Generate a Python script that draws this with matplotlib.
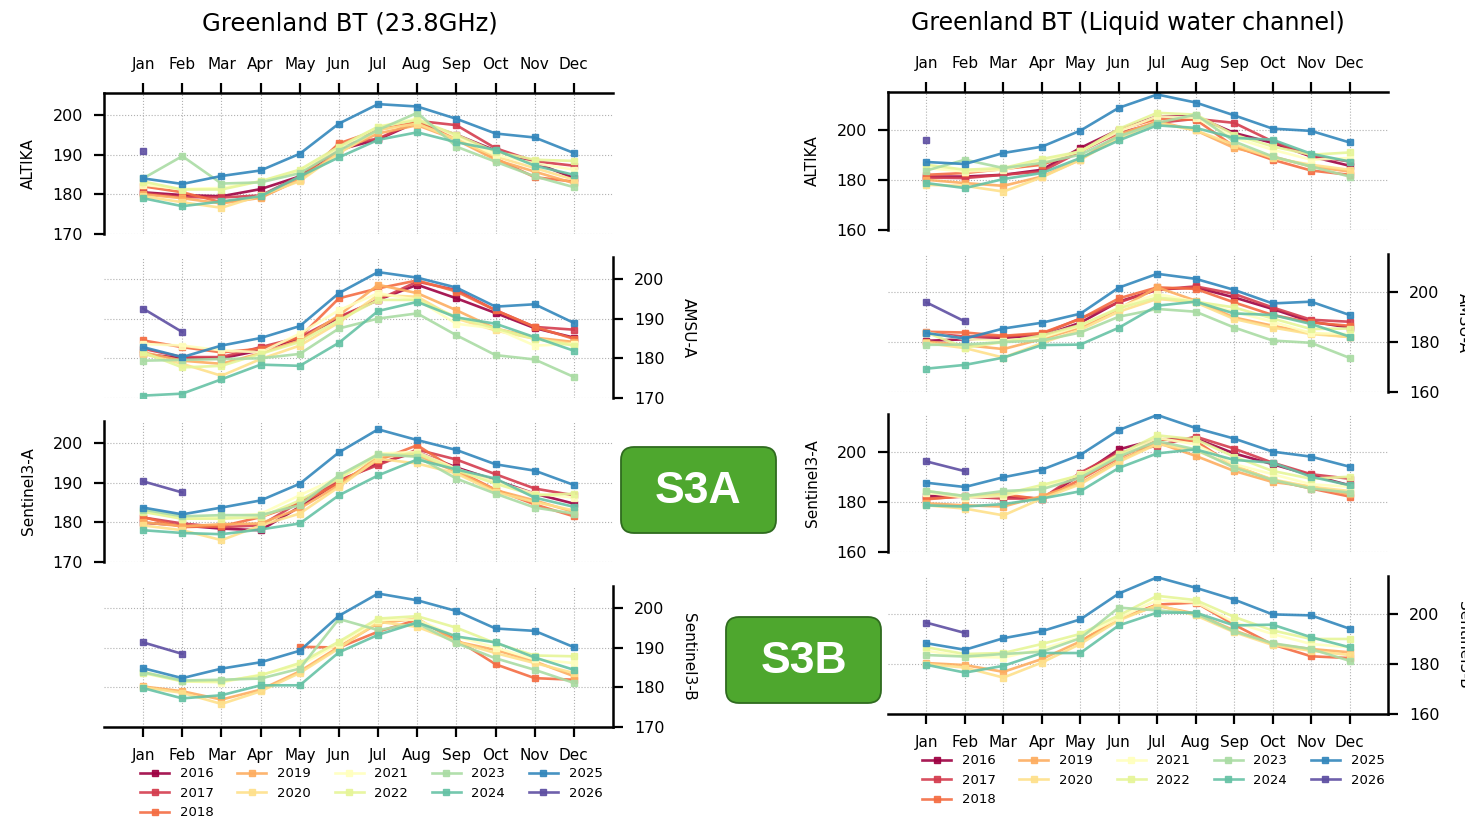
import numpy as np
import matplotlib
matplotlib.use("Agg")
import matplotlib.pyplot as plt
from matplotlib.lines import Line2D
from matplotlib.patches import FancyBboxPatch

months = ["Jan", "Feb", "Mar", "Apr", "May", "Jun", "Jul", "Aug", "Sep", "Oct", "Nov", "Dec"]
years = list(range(2016, 2027))

# ---- 23.8 GHz ----
l_altika = {
    2016: [180.5, 179.8, 179.5, 181.3, 184.5, 191.2, 193.8, 198.2, 195.0, 191.0, 188.0, 184.1],
    2017: [180.3, 179.3, 179.2, 179.7, 184.5, 192.4, 194.0, 198.5, 197.4, 191.6, 188.3, 187.2],
    2018: [182.0, 180.5, 178.0, 179.3, 183.7, 192.8, 196.2, 198.2, 194.0, 189.0, 184.3, 183.2],
    2019: [180.0, 179.0, 177.7, 179.1, 183.7, 190.7, 195.3, 197.4, 193.7, 188.7, 185.7, 182.8],
    2020: [179.5, 178.0, 176.6, 179.7, 183.3, 190.3, 196.2, 197.8, 193.8, 189.5, 186.6, 183.7],
    2021: [182.4, 181.3, 181.6, 183.3, 185.8, 191.6, 197.0, 199.1, 194.5, 189.9, 187.8, 186.2],
    2022: [183.2, 181.2, 181.2, 183.3, 186.2, 192.0, 197.0, 198.7, 195.0, 190.7, 188.7, 188.4],
    2023: [184.0, 189.6, 182.7, 183.0, 185.3, 191.0, 196.2, 200.5, 192.0, 188.2, 184.5, 181.8],
    2024: [179.0, 177.0, 178.2, 179.5, 184.5, 189.3, 193.7, 195.6, 193.1, 191.2, 187.2, 184.9],
    2025: [184.0, 182.6, 184.6, 186.0, 190.2, 197.8, 202.7, 202.1, 199.0, 195.3, 194.3, 190.4],
    2026: [190.9],
}
l_amsu = {
    2016: [181.1, 180.0, 180.0, 182.0, 185.0, 190.2, 194.7, 198.5, 195.1, 191.4, 187.6, 185.2],
    2017: [182.4, 180.3, 180.3, 182.8, 185.3, 190.4, 194.7, 199.3, 197.2, 192.1, 187.9, 187.2],
    2018: [184.5, 182.8, 181.5, 182.4, 185.3, 195.1, 197.6, 199.6, 196.8, 192.1, 187.9, 184.9],
    2019: [181.5, 179.4, 178.6, 181.3, 184.5, 190.8, 198.5, 196.4, 192.1, 187.5, 185.2, 184.1],
    2020: [181.1, 178.6, 175.6, 179.8, 183.2, 189.0, 195.9, 195.5, 190.0, 187.0, 184.9, 183.6],
    2021: [183.6, 183.2, 182.0, 181.5, 186.2, 192.1, 196.4, 194.7, 188.7, 187.5, 183.2, 183.6],
    2022: [181.5, 177.7, 178.1, 181.1, 184.1, 189.6, 194.7, 194.7, 190.4, 187.5, 184.9, 183.2],
    2023: [179.4, 179.6, 179.8, 180.0, 181.1, 187.5, 190.0, 191.3, 185.8, 180.8, 179.7, 175.3],
    2024: [170.6, 171.1, 174.7, 178.4, 178.1, 183.9, 191.9, 194.2, 190.3, 188.7, 185.3, 181.9],
    2025: [182.8, 180.3, 183.2, 185.1, 188.1, 196.4, 201.7, 200.3, 197.8, 193.0, 193.6, 188.9],
    2026: [192.5, 186.6],
}
l_s3a = {
    2016: [179.9, 179.2, 178.4, 178.0, 183.9, 190.2, 194.8, 197.7, 193.8, 190.6, 187.2, 184.7],
    2017: [181.2, 179.7, 178.8, 179.2, 185.1, 190.6, 194.4, 198.3, 195.8, 192.1, 188.5, 186.8],
    2018: [181.3, 178.8, 179.0, 181.3, 184.7, 189.9, 195.6, 199.4, 193.1, 188.2, 184.5, 181.5],
    2019: [180.0, 179.0, 179.5, 179.7, 183.5, 189.3, 196.5, 196.9, 192.7, 188.1, 185.5, 182.6],
    2020: [179.2, 178.0, 175.5, 179.2, 182.2, 188.9, 196.0, 194.8, 192.3, 187.6, 185.1, 183.0],
    2021: [182.9, 180.8, 181.4, 182.1, 186.8, 191.4, 197.3, 197.7, 193.5, 190.2, 187.2, 186.2],
    2022: [182.6, 180.9, 180.9, 181.3, 185.5, 191.0, 196.9, 197.3, 193.1, 189.7, 186.8, 187.2],
    2023: [183.2, 181.5, 181.8, 181.8, 184.3, 191.8, 197.1, 196.5, 191.0, 187.2, 183.7, 182.2],
    2024: [178.0, 177.3, 177.0, 178.2, 179.7, 186.8, 191.8, 195.8, 193.3, 191.0, 186.2, 183.9],
    2025: [183.7, 182.0, 183.7, 185.5, 189.7, 197.6, 203.4, 200.7, 198.2, 194.6, 193.0, 189.4],
    2026: [190.3, 187.5],
}
l_s3b = {
    2016: [],
    2017: [],
    2018: [None, None, None, None, 190.2, 190.0, 194.0, 197.0, 192.0, 185.8, 182.3, 181.9],
    2019: [180.2, 179.0, 176.9, 179.4, 184.0, 190.2, 196.1, 197.3, 191.5, 189.4, 186.5, 182.8],
    2020: [180.0, 178.6, 175.8, 179.0, 183.6, 189.8, 196.5, 195.2, 191.5, 188.6, 186.1, 183.6],
    2021: [183.9, 181.5, 181.2, 183.2, 185.5, 191.0, 197.0, 197.0, 192.8, 190.0, 187.0, 186.1],
    2022: [183.6, 181.5, 181.5, 183.0, 186.1, 191.5, 197.3, 197.9, 195.0, 191.1, 188.0, 187.8],
    2023: [183.8, 181.7, 181.9, 182.2, 184.7, 197.2, 194.4, 196.1, 191.1, 187.3, 184.4, 181.1],
    2024: [179.8, 177.2, 178.0, 180.5, 180.5, 188.8, 193.2, 196.3, 192.8, 191.3, 187.5, 184.4],
    2025: [184.8, 182.3, 184.7, 186.3, 189.2, 198.0, 203.6, 201.9, 199.2, 194.8, 194.2, 190.1],
    2026: [191.3, 188.4],
}

# ---- liquid water channel ----
r_altika = {
    2016: [181.3, 181.3, 182.0, 184.0, 192.7, 200.0, 205.3, 205.3, 198.7, 194.7, 189.3, 185.6],
    2017: [180.9, 180.7, 182.0, 183.3, 191.3, 198.7, 202.7, 204.3, 202.7, 195.3, 189.6, 187.3],
    2018: [182.0, 182.7, 184.3, 186.0, 191.3, 200.0, 204.3, 204.0, 193.3, 188.0, 183.7, 182.0],
    2019: [180.0, 178.7, 177.6, 181.3, 188.0, 198.0, 203.3, 199.7, 192.7, 189.3, 185.3, 183.3],
    2020: [178.0, 177.6, 175.3, 181.0, 188.0, 196.7, 202.7, 199.7, 194.0, 188.7, 186.0, 184.0],
    2021: [184.7, 183.3, 184.0, 187.3, 191.3, 199.3, 205.3, 204.7, 196.7, 192.0, 188.0, 188.7],
    2022: [186.0, 184.0, 184.7, 188.3, 191.3, 200.3, 206.7, 206.0, 198.0, 193.3, 190.0, 190.9],
    2023: [183.7, 188.0, 184.7, 186.7, 190.0, 197.3, 202.7, 206.0, 195.3, 189.3, 185.3, 181.3],
    2024: [178.7, 176.7, 180.3, 182.7, 188.7, 195.7, 201.7, 200.7, 196.7, 196.0, 190.4, 187.3],
    2025: [187.1, 186.3, 190.7, 193.2, 199.6, 208.7, 214.0, 210.8, 205.7, 200.4, 199.5, 194.9],
    2026: [196.0],
}
r_amsu = {
    2016: [180.4, 181.0, 181.6, 182.3, 187.6, 196.0, 200.8, 201.7, 197.7, 193.1, 188.0, 185.7],
    2017: [183.5, 182.1, 182.1, 183.1, 189.3, 195.7, 200.8, 202.1, 199.1, 193.7, 188.8, 188.0],
    2018: [184.0, 183.7, 182.4, 183.5, 189.1, 197.3, 201.7, 201.1, 195.7, 190.7, 187.7, 186.4],
    2019: [180.1, 178.7, 177.1, 181.1, 185.7, 193.1, 201.7, 196.4, 189.7, 186.4, 183.5, 181.9],
    2020: [179.5, 177.5, 173.7, 179.5, 184.8, 192.0, 197.1, 195.7, 189.1, 185.7, 183.1, 181.9],
    2021: [183.7, 181.1, 180.5, 181.7, 186.4, 193.7, 199.1, 196.0, 192.0, 188.0, 183.5, 183.1],
    2022: [183.7, 177.7, 179.9, 182.5, 186.7, 193.3, 197.7, 196.0, 193.7, 189.3, 185.1, 185.3],
    2023: [178.8, 178.9, 179.9, 180.5, 183.7, 190.0, 193.1, 192.0, 185.7, 180.5, 179.6, 173.6],
    2024: [169.3, 170.8, 173.7, 178.7, 178.9, 185.6, 194.4, 196.0, 191.3, 190.7, 187.1, 182.1],
    2025: [183.5, 181.3, 185.3, 187.6, 191.2, 201.6, 207.1, 205.1, 200.7, 195.3, 196.0, 190.7],
    2026: [195.7, 188.1],
}
r_s3a = {
    2016: [182.3, 182.5, 182.0, 181.3, 190.6, 200.9, 204.9, 205.2, 199.3, 195.0, 190.6, 186.6],
    2017: [181.3, 182.1, 181.3, 181.3, 191.6, 199.6, 202.3, 206.0, 201.2, 195.6, 191.0, 189.2],
    2018: [181.0, 182.3, 183.0, 181.0, 188.9, 197.5, 204.9, 204.2, 194.3, 188.7, 185.3, 182.1],
    2019: [179.4, 178.6, 178.1, 182.3, 187.4, 196.3, 203.6, 198.3, 192.3, 187.9, 186.0, 183.0],
    2020: [178.6, 177.3, 174.6, 181.3, 187.0, 195.9, 203.0, 200.5, 194.3, 188.9, 186.0, 184.3],
    2021: [183.7, 181.7, 182.3, 185.6, 190.9, 198.2, 205.5, 202.9, 195.0, 191.0, 187.0, 186.0],
    2022: [184.3, 182.3, 183.0, 186.7, 190.6, 198.9, 206.5, 204.9, 198.0, 192.3, 189.2, 190.0],
    2023: [184.3, 182.3, 184.3, 185.0, 189.6, 198.0, 204.2, 200.9, 193.6, 188.7, 185.3, 183.7],
    2024: [178.6, 178.1, 179.1, 181.3, 184.2, 193.5, 199.3, 200.9, 196.7, 195.6, 190.0, 186.6],
    2025: [187.6, 185.9, 189.8, 192.8, 198.7, 208.6, 214.6, 209.4, 205.2, 200.0, 198.0, 194.0],
    2026: [196.1, 192.2],
}
r_s3b = {
    2016: [],
    2017: [],
    2018: [None, None, None, None, 188.9, 198.0, 203.6, 204.4, 195.6, 187.7, 183.0, 182.3],
    2019: [180.3, 179.5, 176.8, 181.9, 188.9, 198.0, 203.1, 200.0, 193.3, 187.9, 185.9, 184.6],
    2020: [179.9, 178.5, 174.5, 180.5, 187.9, 197.3, 203.4, 199.3, 192.6, 187.5, 185.2, 183.5],
    2021: [185.2, 182.9, 182.5, 185.9, 190.6, 198.3, 205.4, 204.5, 196.6, 191.9, 187.9, 186.6],
    2022: [186.6, 183.9, 184.3, 187.9, 191.9, 199.3, 207.1, 205.4, 198.7, 193.3, 189.9, 189.9],
    2023: [183.5, 182.9, 183.9, 184.8, 190.2, 202.4, 201.3, 200.0, 192.9, 188.2, 185.9, 181.2],
    2024: [179.6, 176.5, 179.2, 184.3, 184.3, 195.3, 200.4, 200.4, 195.3, 195.6, 190.6, 186.6],
    2025: [188.2, 185.6, 190.2, 193.0, 197.7, 208.0, 214.5, 210.3, 205.6, 199.7, 199.3, 194.0],
    2026: [196.4, 192.3],
}

sensors = ["ALTIKA", "AMSU-A", "Sentinel3-A", "Sentinel3-B"]
left_data = [l_altika, l_amsu, l_s3a, l_s3b]
right_data = [r_altika, r_amsu, r_s3a, r_s3b]

colors = plt.cm.Spectral(np.linspace(0, 1, len(years)))

W, H = 1465, 822
fig = plt.figure(figsize=(W / 100, H / 100), dpi=100)


def px_axes(x0, x1, y0, y1):
    return fig.add_axes([x0 / W, 1 - y1 / H, (x1 - x0) / W, (y1 - y0) / H])


def draw_panel(ax, data, i, ylim, yticks, label):
    for yr, c in zip(years, colors):
        v = np.array([np.nan if a is None else a for a in data[yr]], dtype=float)
        if len(v) == 0:
            continue
        ax.plot(np.arange(len(v)), v, color=c, marker="s", ms=5, lw=1.9, alpha=0.9)
    ax.set_xlim(-1, 12)
    ax.set_ylim(*ylim)
    ax.set_xticks(range(12))
    ax.set_yticks(yticks)
    ax.set_facecolor("none")
    for s in ax.spines.values():
        s.set_visible(False)
    side = "left" if i % 2 == 0 else "right"
    ax.spines[side].set_visible(True)
    ax.spines[side].set_linewidth(1.8)
    if side == "right":
        ax.yaxis.tick_right()
        ax.yaxis.set_label_position("right")
        ax.set_ylabel(label, fontsize=11, rotation=270, va="bottom", labelpad=12)
    else:
        ax.set_ylabel(label, fontsize=11, labelpad=12)
    ax.tick_params(axis="y", length=7, width=1.6, labelsize=11.5, pad=8)
    ax.grid(True, ls=":", color="#b0b0b0", lw=0.8)
    if i == 0:
        ax.xaxis.tick_top()
        ax.spines["top"].set_visible(True)
        ax.spines["top"].set_linewidth(1.8)
        ax.set_xticklabels(months)
        ax.tick_params(axis="x", length=7, width=1.6, labelsize=11, pad=8)
    elif i == 3:
        ax.spines["bottom"].set_visible(True)
        ax.spines["bottom"].set_linewidth(1.8)
        ax.set_xticklabels(months)
        ax.tick_params(axis="x", length=7, width=1.6, labelsize=11, pad=8)
    else:
        ax.tick_params(axis="x", length=0, labelbottom=False)


# left column (23.8 GHz)
left_rows = [(93, 234), (257, 398), (421, 562), (586, 727)]
for i, (y0, y1) in enumerate(left_rows):
    ax = px_axes(104, 613, y0, y1)
    draw_panel(ax, left_data[i], i, (170, 205.5), [170, 180, 190, 200], sensors[i])

# right column (liquid water)
right_rows = [(92, 230), (254, 392), (414, 552), (576, 714)]
for i, (y0, y1) in enumerate(right_rows):
    ax = px_axes(888, 1388, y0, y1)
    draw_panel(ax, right_data[i], i, (160, 215), [160, 180, 200], sensors[i])

fig.text(350 / W, 1 - 23 / H, "Greenland BT (23.8GHz)", fontsize=17.5, ha="center", va="center")
fig.text(1128 / W, 1 - 23 / H, "Greenland BT (Liquid water channel)", fontsize=17, ha="center", va="center")

handles = [Line2D([], [], color=c, marker="s", ms=5, lw=1.9, alpha=0.9) for c in colors]
labels = [str(y) for y in years]
for bx, by in [(131, 758), (913, 745)]:
    fig.legend(handles, labels, loc="upper left", bbox_to_anchor=(bx / W, 1 - by / H),
               ncol=5, frameon=False, fontsize=9.5, handlelength=2.2, handletextpad=0.8,
               columnspacing=1.8, labelspacing=0.5, borderpad=0.2)

# S3A / S3B tags
ov = fig.add_axes([0, 0, 1, 1], zorder=10)
ov.set_xlim(0, W)
ov.set_ylim(H, 0)
ov.axis("off")
for x0, y0, txt in [(621, 447, "S3A"), (726, 617, "S3B")]:
    box = FancyBboxPatch((x0, y0), 155, 86, boxstyle="round,pad=0,rounding_size=13",
                         fc="#4ea72e", ec="#2f6b1f", lw=1.3)
    ov.add_patch(box)
    ov.text(x0 + 77.5, y0 + 44, txt, color="white", fontsize=32, fontweight="bold",
            family="Liberation Sans", ha="center", va="center")

fig.savefig("out.png", dpi=100)
